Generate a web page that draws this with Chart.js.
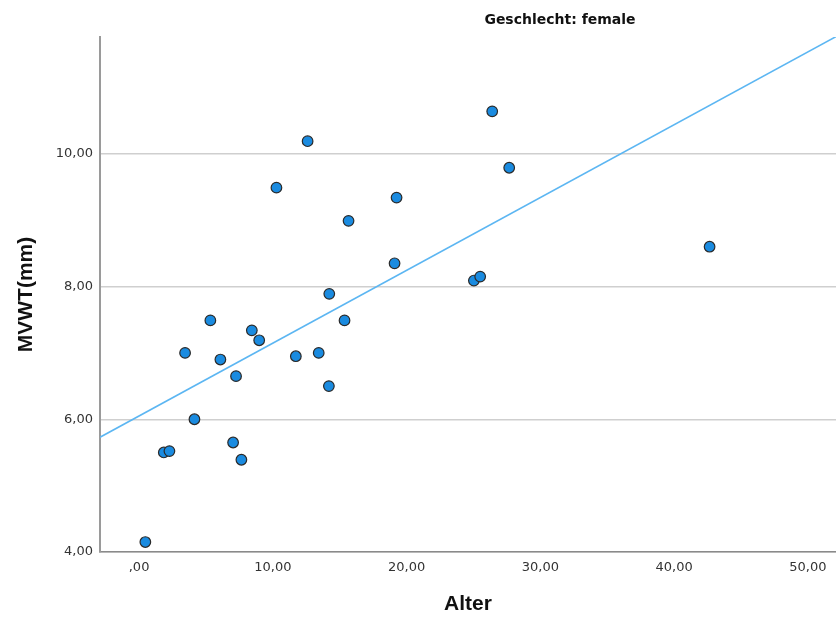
<!DOCTYPE html>
<html>
<head>
<meta charset="utf-8">
<script src="https://cdn.jsdelivr.net/npm/chart.js@4/dist/chart.umd.min.js"></script>
<style>
  html, body { margin: 0; padding: 0; background: #fff; }
  #wrap { width: 836px; height: 617px; }
</style>
</head>
<body>
<div id="wrap"><canvas id="chart" width="836" height="617"></canvas></div>
<script>
// Alter vs. MVWT, female group
const alter = [0.47, 1.85, 2.27, 3.44, 4.14, 5.33, 6.08, 7.03, 7.25, 7.65,
  8.43, 8.98, 10.27, 11.72, 12.6, 13.43, 14.19, 14.22, 15.36, 15.66,
  19.1, 19.25, 25.03, 25.5, 26.4, 27.67, 42.65];
const mvwt = [4.15, 5.50, 5.52, 7.0, 6.0, 7.49, 6.90, 5.65, 6.65, 5.39,
  7.34, 7.19, 9.49, 6.95, 10.19, 7.0, 6.50, 7.89, 7.49, 8.99,
  8.35, 9.34, 8.09, 8.15, 10.64, 9.79, 8.60];

// linear fit line (intercept, slope)
const fitLine = [6.05, 0.1097];
const xRange = [-2.92, 52.1];
const yRange = [4, 11.76];

const xTicks = [0, 10, 20, 30, 40, 50];
const xTickLabels = [",00", "10,00", "20,00", "30,00", "40,00", "50,00"];
const yTicks = [4, 6, 8, 10];
const yTickLabels = ["4,00", "6,00", "8,00", "10,00"];

const points = alter.map((a, i) => ({ x: a, y: mvwt[i] }));
const linePts = xRange.map((x) => ({ x: x, y: fitLine[0] + fitLine[1] * x }));

const panelTitle = {
  id: "panelTitle",
  afterDraw(chart) {
    const c = chart.ctx;
    c.save();
    c.font = "bold 14px 'DejaVu Sans'";
    c.fillStyle = "#111";
    c.textAlign = "center";
    c.textBaseline = "middle";
    c.fillText("Geschlecht: female", 560, 20);
    c.restore();
  },
};

new Chart(document.getElementById("chart"), {
  type: "scatter",
  data: {
    datasets: [
      {
        type: "line",
        data: linePts,
        borderColor: "#5cb6f2",
        borderWidth: 1.6,
        pointRadius: 0,
        fill: false,
        order: 2,
      },
      {
        data: points,
        backgroundColor: "#1a8be0",
        borderColor: "#2a2a2a",
        borderWidth: 1.2,
        pointRadius: 5.3,
        order: 1,
      },
    ],
  },
  options: {
    responsive: false,
    animation: false,
    layout: { autoPadding: false, padding: { top: 37, right: 0, left: 0, bottom: 0 } },
    plugins: { legend: { display: false }, tooltip: { enabled: false } },
    scales: {
      x: {
        type: "linear",
        min: xRange[0],
        max: xRange[1],
        afterBuildTicks: (s) => { s.ticks = xTicks.map((v) => ({ value: v })); },
        afterFit: (s) => {
          s.height = 65;
          s.paddingLeft = 0;
          s.paddingRight = 0;
        },
        ticks: {
          padding: 8,
          color: "#333",
          font: { family: "DejaVu Sans", size: 13 },
          callback: (v, i) => xTickLabels[i],
        },
        grid: { display: false, drawTicks: false },
        border: { color: "#8a8a8a", width: 1.5 },
        title: {
          display: true,
          text: "Alter",
          color: "#111",
          font: { family: "Liberation Sans", size: 21, weight: "bold" },
          padding: { top: 0, bottom: 0 },
        },
      },
      y: {
        type: "linear",
        min: yRange[0],
        max: yRange[1],
        afterBuildTicks: (s) => { s.ticks = yTicks.map((v) => ({ value: v })); },
        afterFit: (s) => {
          s.width = 100;
          s.paddingTop = 0;
          s.paddingBottom = 0;
        },
        ticks: {
          padding: 7,
          color: "#333",
          font: { family: "DejaVu Sans", size: 13 },
          callback: (v, i) => yTickLabels[i],
        },
        grid: { color: "#cfcfcf", lineWidth: 1.5, drawTicks: false },
        border: { color: "#9a9a9a", width: 2 },
        title: {
          display: true,
          text: "MVWT(mm)",
          color: "#111",
          font: { family: "Liberation Sans", size: 21, weight: "bold" },
          padding: { top: 14, bottom: 0 },
        },
      },
    },
  },
  plugins: [panelTitle],
});
</script>
</body>
</html>
